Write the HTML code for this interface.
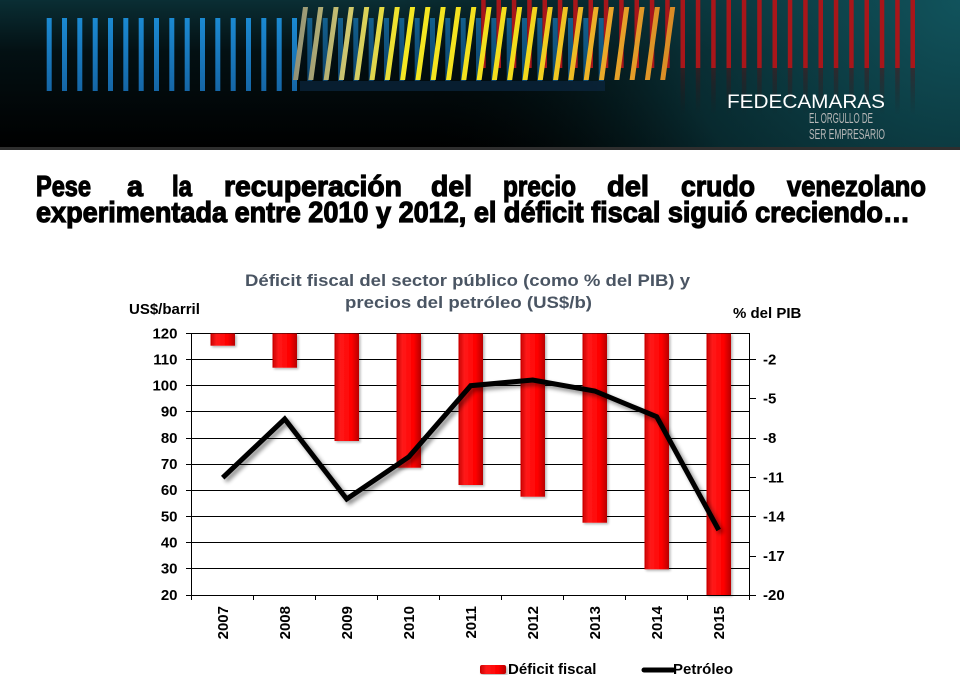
<!DOCTYPE html>
<html>
<head>
<meta charset="utf-8">
<style>
  html,body{margin:0;padding:0;background:#fff;}
  body{width:960px;height:675px;overflow:hidden;}
  svg{display:block;}
  text{font-family:"Liberation Sans", Arial, sans-serif;}
</style>
</head>
<body>
<svg width="960" height="675" viewBox="0 0 960 675" xmlns="http://www.w3.org/2000/svg">
  <defs>
    <linearGradient id="hdrV" x1="0" y1="0" x2="0" y2="1">
      <stop offset="0" stop-color="#0a2e34"/>
      <stop offset="0.35" stop-color="#031013"/>
      <stop offset="1" stop-color="#000"/>
    </linearGradient>
    <radialGradient id="hdrR" cx="960" cy="0" r="560" gradientUnits="userSpaceOnUse">
      <stop offset="0" stop-color="#11535c" stop-opacity="1"/>
      <stop offset="0.5" stop-color="#0b3a41" stop-opacity="0.7"/>
      <stop offset="1" stop-color="#000" stop-opacity="0"/>
    </radialGradient>
    <linearGradient id="blueG" x1="0" y1="18" x2="0" y2="91" gradientUnits="userSpaceOnUse">
      <stop offset="0" stop-color="#1b8ad2"/>
      <stop offset="1" stop-color="#1566a6"/>
    </linearGradient>
    <linearGradient id="redRefl" x1="0" y1="68" x2="0" y2="115" gradientUnits="userSpaceOnUse">
      <stop offset="0" stop-color="#5a1012" stop-opacity="0.45"/>
      <stop offset="1" stop-color="#2a0a0a" stop-opacity="0"/>
    </linearGradient>
    <linearGradient id="yelG" x1="290" y1="0" x2="675" y2="0" gradientUnits="userSpaceOnUse">
      <stop offset="0" stop-color="#8c8c78"/>
      <stop offset="0.15" stop-color="#cfc870"/>
      <stop offset="0.3" stop-color="#f4e822"/>
      <stop offset="0.6" stop-color="#f3dc1c"/>
      <stop offset="0.82" stop-color="#eaa82a"/>
      <stop offset="1" stop-color="#d88a26"/>
    </linearGradient>
    <linearGradient id="barG" x1="0" y1="0" x2="1" y2="0">
      <stop offset="0" stop-color="#c80000"/>
      <stop offset="0.25" stop-color="#ff1a1a"/>
      <stop offset="0.7" stop-color="#ff0000"/>
      <stop offset="1" stop-color="#b80000"/>
    </linearGradient>
    <filter id="shadow" x="-10%" y="-10%" width="130%" height="130%">
      <feGaussianBlur in="SourceAlpha" stdDeviation="2.2"/>
      <feOffset dx="3" dy="3" result="b"/>
      <feComponentTransfer><feFuncA type="linear" slope="0.45"/></feComponentTransfer>
      <feMerge><feMergeNode/><feMergeNode in="SourceGraphic"/></feMerge>
    </filter>
    <filter id="bshadow" x="-20%" y="-5%" width="150%" height="115%">
      <feGaussianBlur in="SourceAlpha" stdDeviation="1.2"/>
      <feOffset dx="1.5" dy="1.5" result="b"/>
      <feComponentTransfer><feFuncA type="linear" slope="0.3"/></feComponentTransfer>
      <feMerge><feMergeNode/><feMergeNode in="SourceGraphic"/></feMerge>
    </filter>
  </defs>

  <!-- HEADER -->
  <rect x="0" y="0" width="960" height="148" fill="url(#hdrV)"/>
  <rect x="0" y="0" width="960" height="148" fill="url(#hdrR)"/>
  <rect x="0" y="147" width="960" height="3" fill="#2e2e2e"/>

  <!-- red bars -->
  <g fill="#a8161a">
    <rect x="910.5" y="0" width="4.5" height="68"/>
    <rect x="895.2" y="0" width="4.5" height="68"/>
    <rect x="879.8" y="0" width="4.5" height="68"/>
    <rect x="864.5" y="0" width="4.5" height="68"/>
    <rect x="849.2" y="0" width="4.5" height="68"/>
    <rect x="833.8" y="0" width="4.5" height="68"/>
    <rect x="818.5" y="0" width="4.5" height="68"/>
    <rect x="803.2" y="0" width="4.5" height="68"/>
    <rect x="787.8" y="0" width="4.5" height="68"/>
    <rect x="772.5" y="0" width="4.5" height="68"/>
    <rect x="757.2" y="0" width="4.5" height="68"/>
    <rect x="741.8" y="0" width="4.5" height="68"/>
    <rect x="726.5" y="0" width="4.5" height="68"/>
    <rect x="711.2" y="0" width="4.5" height="68"/>
    <rect x="695.8" y="0" width="4.5" height="68"/>
    <rect x="680.5" y="0" width="4.5" height="68"/>
    <rect x="665.2" y="0" width="4.5" height="68"/>
    <rect x="649.8" y="0" width="4.5" height="68"/>
    <rect x="634.5" y="0" width="4.5" height="68"/>
    <rect x="619.2" y="0" width="4.5" height="68"/>
    <rect x="603.8" y="0" width="4.5" height="68"/>
    <rect x="588.5" y="0" width="4.5" height="68"/>
    <rect x="573.2" y="0" width="4.5" height="68"/>
    <rect x="557.8" y="0" width="4.5" height="68"/>
    <rect x="542.5" y="0" width="4.5" height="68"/>
    <rect x="527.2" y="0" width="4.5" height="68"/>
    <rect x="511.8" y="0" width="4.5" height="68"/>
    <rect x="496.5" y="0" width="4.5" height="68"/>
    <rect x="481.2" y="0" width="4.5" height="68"/>
  </g>
  <g fill="url(#redRefl)">
    <rect x="910.5" y="68" width="4.5" height="47"/>
    <rect x="895.2" y="68" width="4.5" height="47"/>
    <rect x="879.8" y="68" width="4.5" height="47"/>
    <rect x="864.5" y="68" width="4.5" height="47"/>
    <rect x="849.2" y="68" width="4.5" height="47"/>
    <rect x="833.8" y="68" width="4.5" height="47"/>
    <rect x="818.5" y="68" width="4.5" height="47"/>
    <rect x="803.2" y="68" width="4.5" height="47"/>
    <rect x="787.8" y="68" width="4.5" height="47"/>
    <rect x="772.5" y="68" width="4.5" height="47"/>
    <rect x="757.2" y="68" width="4.5" height="47"/>
    <rect x="741.8" y="68" width="4.5" height="47"/>
    <rect x="726.5" y="68" width="4.5" height="47"/>
    <rect x="711.2" y="68" width="4.5" height="47"/>
    <rect x="695.8" y="68" width="4.5" height="47"/>
    <rect x="680.5" y="68" width="4.5" height="47"/>
  </g>

  <!-- blue bars -->
  <g fill="url(#blueG)">
    <rect x="46.7" y="18" width="5" height="73"/>
    <rect x="62" y="18" width="5" height="73"/>
    <rect x="77.3" y="18" width="5" height="73"/>
    <rect x="92.7" y="18" width="5" height="73"/>
    <rect x="108" y="18" width="5" height="73"/>
    <rect x="123.3" y="18" width="5" height="73"/>
    <rect x="138.7" y="18" width="5" height="73"/>
    <rect x="154" y="18" width="5" height="73"/>
    <rect x="169.3" y="18" width="5" height="73"/>
    <rect x="184.7" y="18" width="5" height="73"/>
    <rect x="200" y="18" width="5" height="73"/>
    <rect x="215.3" y="18" width="5" height="73"/>
    <rect x="230.7" y="18" width="5" height="73"/>
    <rect x="246" y="18" width="5" height="73"/>
    <rect x="261.3" y="18" width="5" height="73"/>
    <rect x="276.7" y="18" width="5" height="73"/>
    <rect x="292" y="18" width="5" height="73"/>
  </g>
  <g fill="url(#blueG)" opacity="0.6">
    <rect x="307.3" y="18" width="5" height="63"/>
    <rect x="322.7" y="18" width="5" height="63"/>
    <rect x="338" y="18" width="5" height="63"/>
    <rect x="353.3" y="18" width="5" height="63"/>
    <rect x="368.7" y="18" width="5" height="63"/>
    <rect x="384" y="18" width="5" height="63"/>
    <rect x="399.3" y="18" width="5" height="63"/>
    <rect x="414.7" y="18" width="5" height="63"/>
    <rect x="430" y="18" width="5" height="63"/>
    <rect x="445.3" y="18" width="5" height="63"/>
    <rect x="460.7" y="18" width="5" height="63"/>
    <rect x="476" y="18" width="5" height="63"/>
    <rect x="491.3" y="18" width="5" height="63"/>
    <rect x="506.7" y="18" width="5" height="63"/>
    <rect x="522" y="18" width="5" height="63"/>
    <rect x="537.3" y="18" width="5" height="63"/>
    <rect x="552.7" y="18" width="5" height="63"/>
    <rect x="568" y="18" width="5" height="63"/>
    <rect x="583.3" y="18" width="5" height="63"/>
    <rect x="598.7" y="18" width="5" height="63"/>
  </g>
  <rect x="300" y="81" width="305" height="10" fill="#0c2740" opacity="0.7"/>

  <!-- yellow slanted stripes -->
  <g fill="url(#yelG)">
    <polygon points="293,80 298,80 308,7 303,7"/>
    <polygon points="308.3,80 313.3,80 323.3,7 318.3,7"/>
    <polygon points="323.6,80 328.6,80 338.6,7 333.6,7"/>
    <polygon points="338.9,80 343.9,80 353.9,7 348.9,7"/>
    <polygon points="354.2,80 359.2,80 369.2,7 364.2,7"/>
    <polygon points="369.5,80 374.5,80 384.5,7 379.5,7"/>
    <polygon points="384.8,80 389.8,80 399.8,7 394.8,7"/>
    <polygon points="400.1,80 405.1,80 415.1,7 410.1,7"/>
    <polygon points="415.4,80 420.4,80 430.4,7 425.4,7"/>
    <polygon points="430.7,80 435.7,80 445.7,7 440.7,7"/>
    <polygon points="446,80 451,80 461,7 456,7"/>
    <polygon points="461.3,80 466.3,80 476.3,7 471.3,7"/>
    <polygon points="476.6,80 481.6,80 491.6,7 486.6,7"/>
    <polygon points="491.9,80 496.9,80 506.9,7 501.9,7"/>
    <polygon points="507.2,80 512.2,80 522.2,7 517.2,7"/>
    <polygon points="522.5,80 527.5,80 537.5,7 532.5,7"/>
    <polygon points="537.8,80 542.8,80 552.8,7 547.8,7"/>
    <polygon points="553.1,80 558.1,80 568.1,7 563.1,7"/>
    <polygon points="568.4,80 573.4,80 583.4,7 578.4,7"/>
    <polygon points="583.7,80 588.7,80 598.7,7 593.7,7"/>
    <polygon points="599,80 604,80 614,7 609,7"/>
    <polygon points="614.3,80 619.3,80 629.3,7 624.3,7"/>
    <polygon points="629.6,80 634.6,80 644.6,7 639.6,7"/>
    <polygon points="644.9,80 649.9,80 659.9,7 654.9,7"/>
    <polygon points="660.2,80 665.2,80 675.2,7 670.2,7"/>
  </g>

  <!-- logo text -->
  <text x="727" y="108" font-size="19" fill="#ffffff" textLength="158" lengthAdjust="spacingAndGlyphs">FEDECAMARAS</text>
  <text x="809" y="123" font-size="14.5" fill="#b8b8b8" textLength="64" lengthAdjust="spacingAndGlyphs">EL ORGULLO DE</text>
  <text x="809" y="139" font-size="14.5" fill="#b8b8b8" textLength="76" lengthAdjust="spacingAndGlyphs">SER EMPRESARIO</text>

  <!-- SLIDE TITLE -->
  <g font-size="29" font-weight="bold" fill="#000" stroke="#000" stroke-width="1.2">
    <text x="36" y="196" textLength="55" lengthAdjust="spacingAndGlyphs">Pese</text>
    <text x="127" y="196" textLength="16" lengthAdjust="spacingAndGlyphs">a</text>
    <text x="172" y="196" textLength="20" lengthAdjust="spacingAndGlyphs">la</text>
    <text x="224" y="196" textLength="178" lengthAdjust="spacingAndGlyphs">recuperación</text>
    <text x="431" y="196" textLength="41" lengthAdjust="spacingAndGlyphs">del</text>
    <text x="503" y="196" textLength="73" lengthAdjust="spacingAndGlyphs">precio</text>
    <text x="607" y="196" textLength="42" lengthAdjust="spacingAndGlyphs">del</text>
    <text x="681" y="196" textLength="74" lengthAdjust="spacingAndGlyphs">crudo</text>
    <text x="787" y="196" textLength="139" lengthAdjust="spacingAndGlyphs">venezolano</text>
    <text x="36" y="222" textLength="874" lengthAdjust="spacingAndGlyphs">experimentada entre 2010 y 2012, el déficit fiscal siguió creciendo…</text>
  </g>

  <!-- CHART TITLE -->
  <g font-size="17" font-weight="bold" fill="#4a5563">
    <text x="245" y="286" textLength="445" lengthAdjust="spacingAndGlyphs">Déficit fiscal del sector público (como % del PIB) y</text>
    <text x="345" y="308" textLength="247" lengthAdjust="spacingAndGlyphs">precios del petróleo (US$/b)</text>
  </g>
  <g font-size="15" font-weight="bold" fill="#000">
    <text x="129" y="314">US$/barril</text>
    <text x="733" y="318">% del PIB</text>
  </g>

  <!-- gridlines -->
  <g stroke="#000" stroke-width="1" shape-rendering="crispEdges">
    <line x1="186" y1="333.5" x2="750" y2="333.5"/>
    <line x1="186" y1="359.5" x2="756" y2="359.5"/>
    <line x1="186" y1="385.5" x2="750" y2="385.5"/>
    <line x1="186" y1="411.5" x2="750" y2="411.5"/>
    <line x1="186" y1="438.5" x2="756" y2="438.5"/>
    <line x1="186" y1="464.5" x2="750" y2="464.5"/>
    <line x1="186" y1="490.5" x2="750" y2="490.5"/>
    <line x1="186" y1="516.5" x2="756" y2="516.5"/>
    <line x1="186" y1="542.5" x2="750" y2="542.5"/>
    <line x1="186" y1="568.5" x2="750" y2="568.5"/>
    <line x1="186" y1="595.5" x2="756" y2="595.5"/>
    <line x1="749" y1="398.5" x2="756" y2="398.5"/>
    <line x1="749" y1="477.5" x2="756" y2="477.5"/>
    <line x1="749" y1="556.5" x2="756" y2="556.5"/>
    <line x1="191.5" y1="333" x2="191.5" y2="600"/>
    <line x1="749.5" y1="333" x2="749.5" y2="600"/>
    <line x1="253.5" y1="595" x2="253.5" y2="600"/>
    <line x1="315.5" y1="595" x2="315.5" y2="600"/>
    <line x1="377.5" y1="595" x2="377.5" y2="600"/>
    <line x1="439.5" y1="595" x2="439.5" y2="600"/>
    <line x1="501.5" y1="595" x2="501.5" y2="600"/>
    <line x1="563.5" y1="595" x2="563.5" y2="600"/>
    <line x1="625.5" y1="595" x2="625.5" y2="600"/>
    <line x1="687.5" y1="595" x2="687.5" y2="600"/>
  </g>

  <!-- bars -->
  <g fill="url(#barG)" filter="url(#bshadow)">
    <rect x="210.5" y="333.5" width="24.5" height="12.2"/>
    <rect x="272.5" y="333.5" width="24.5" height="34.2"/>
    <rect x="334.5" y="333.5" width="24.5" height="107.5"/>
    <rect x="396.5" y="333.5" width="24.5" height="134.2"/>
    <rect x="458.5" y="333.5" width="24.5" height="151.5"/>
    <rect x="520.5" y="333.5" width="24.5" height="163.2"/>
    <rect x="582.5" y="333.5" width="24.5" height="189.2"/>
    <rect x="644.5" y="333.5" width="24.5" height="235.8"/>
    <rect x="706.5" y="333.5" width="24.5" height="261.5"/>
  </g>

  <!-- oil line -->
  <polyline points="222.7,477.7 284.7,419 346.7,499 408.7,457 470.7,385.7 532.7,380 594.7,391 656.7,416.7 718.7,530"
            fill="none" stroke="#000" stroke-width="5" stroke-linejoin="miter" filter="url(#shadow)"/>

  <!-- left axis labels -->
  <g font-size="15" font-weight="bold" fill="#000" text-anchor="end">
    <text x="177.5" y="338.5">120</text>
    <text x="177.5" y="364.5">110</text>
    <text x="177.5" y="390.5">100</text>
    <text x="177.5" y="416.5">90</text>
    <text x="177.5" y="443">80</text>
    <text x="177.5" y="469">70</text>
    <text x="177.5" y="495">60</text>
    <text x="177.5" y="521.5">50</text>
    <text x="177.5" y="547.5">40</text>
    <text x="177.5" y="573.5">30</text>
    <text x="177.5" y="600">20</text>
  </g>
  <!-- right axis labels -->
  <g font-size="15" font-weight="bold" fill="#000">
    <text x="763" y="364.5">-2</text>
    <text x="763" y="403.5">-5</text>
    <text x="763" y="443">-8</text>
    <text x="763" y="482.5">-11</text>
    <text x="763" y="521.5">-14</text>
    <text x="763" y="561">-17</text>
    <text x="763" y="600">-20</text>
  </g>

  <!-- year labels -->
  <g font-size="15" font-weight="bold" fill="#000" text-anchor="end">
    <text transform="translate(228.2,606) rotate(-90)">2007</text>
    <text transform="translate(290.2,606) rotate(-90)">2008</text>
    <text transform="translate(352.2,606) rotate(-90)">2009</text>
    <text transform="translate(414.2,606) rotate(-90)">2010</text>
    <text transform="translate(476.2,606) rotate(-90)">2011</text>
    <text transform="translate(538.2,606) rotate(-90)">2012</text>
    <text transform="translate(600.2,606) rotate(-90)">2013</text>
    <text transform="translate(662.2,606) rotate(-90)">2014</text>
    <text transform="translate(724.2,606) rotate(-90)">2015</text>
  </g>

  <!-- legend -->
  <rect x="480" y="665" width="26" height="9" rx="2" fill="url(#barG)" filter="url(#bshadow)"/>
  <text x="508" y="674" font-size="15" font-weight="bold" fill="#000">Déficit fiscal</text>
  <line x1="644" y1="670" x2="673" y2="670" stroke="#000" stroke-width="5" stroke-linecap="round"/>
  <text x="673" y="674" font-size="15" font-weight="bold" fill="#000">Petróleo</text>
</svg>
</body>
</html>
